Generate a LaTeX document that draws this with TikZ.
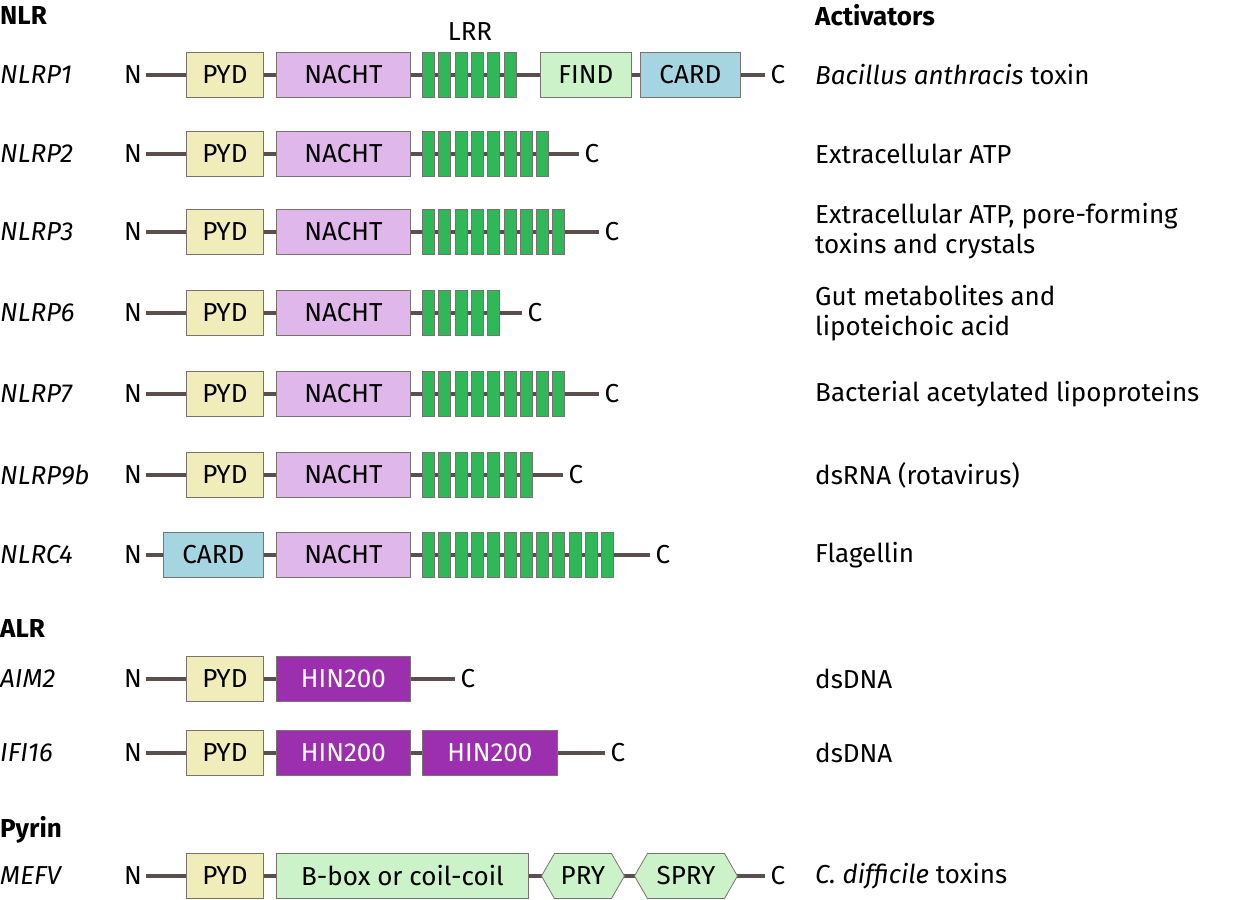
\documentclass[tikz,border=0pt]{standalone}
\usepackage{fontspec}
\setmainfont{Fira Sans}
\usepackage{tikz}
\usetikzlibrary{positioning,shapes.geometric,shapes.symbols}
\definecolor{pydcol}{HTML}{F0EDBB}
\definecolor{nachtcol}{HTML}{DFB7EA}
\definecolor{lrrcol}{HTML}{2EB857}
\definecolor{findcol}{HTML}{CBF2C8}
\definecolor{cardcol}{HTML}{A6D5E2}
\definecolor{hincol}{HTML}{9B2FAE}
\definecolor{linecol}{HTML}{5A4F4C}
\tikzset{
  dom/.style={draw=linecol!80, line width=0.8pt, minimum height=45pt, inner sep=0pt, anchor=west, font=\fontsize{26}{30}\selectfont},
  pyd/.style={dom, fill=pydcol, minimum width=77pt},
  nacht/.style={dom, fill=nachtcol, minimum width=134pt},
  card/.style={dom, fill=cardcol, minimum width=100pt},
  find/.style={dom, fill=findcol, minimum width=91pt},
  hin/.style={dom, fill=hincol, text=white, minimum width=134pt},
  hexa/.style={dom, fill=findcol, shape=signal, signal to=east and west, signal pointer angle=120},
  lrr/.style={draw=linecol!80, line width=0.6pt, fill=lrrcol, minimum width=12pt, minimum height=45pt, inner sep=0pt, anchor=west},
  term/.style={font=\fontsize{26}{30}\selectfont, inner sep=0pt},
  lbl/.style={font=\fontsize{26}{30}\selectfont\itshape, anchor=west, inner sep=0pt},
  act/.style={font=\fontsize{26}{30}\selectfont, anchor=west, inner sep=0pt, align=left},
  head/.style={font=\fontsize{26}{30}\selectfont\bfseries, anchor=west, inner sep=0pt},
  chain/.style={linecol, line width=4pt}
}
% LRR repeats: #1 y position, #2 count
\newcommand{\lrrs}[2]{\foreach \k in {1,...,#2} \node[lrr] at ({422+16.3*(\k-1)},#1) {};}
\begin{document}
\begin{tikzpicture}[x=1pt,y=-1pt]
  \useasboundingbox (0,0) rectangle (1241,899);
  % headings
  \node[head] (hnlr) at (0,15) {NLR};
  \node[head] (hact) at (815,15) {Activators};
  \node[head] (halr) at (0,628) {ALR};
  \node[head] (hpyr) at (0,830) {Pyrin};
  \node[term] (lrrlab) at (470,32) {LRR};

  % NLRP1
  \node[lbl] (l1) at (0,75) {NLRP1};
  \node[term] (n1) at (133,75) {N};
  \node[term] (c1) at (778,75) {C};
  \draw[chain] (n1.east) ++(4,0) -- ([xshift=-6pt]c1.west);
  \node[pyd] (p1) at (186,75) {PYD};
  \node[nacht] (na1) at (276,75) {NACHT};
  \lrrs{75}{6}
  \node[find] (f1) at (540,75) {FIND};
  \node[card] (cd1) at (640,75) {CARD};
  \node[act] (a1) at (815,75) {\textit{Bacillus anthracis} toxin};

  % NLRP2
  \node[lbl] (l2) at (0,154) {NLRP2};
  \node[term] (n2) at (133,154) {N};
  \node[term] (c2) at (592,154) {C};
  \draw[chain] (n2.east) ++(4,0) -- ([xshift=-6pt]c2.west);
  \node[pyd] (p2) at (186,154) {PYD};
  \node[nacht] (na2) at (276,154) {NACHT};
  \lrrs{154}{8}
  \node[act] (a2) at (815,154) {Extracellular ATP};

  % NLRP3
  \node[lbl] (l3) at (0,232) {NLRP3};
  \node[term] (n3) at (133,232) {N};
  \node[term] (c3) at (612,232) {C};
  \draw[chain] (n3.east) ++(4,0) -- ([xshift=-6pt]c3.west);
  \node[pyd] (p3) at (186,232) {PYD};
  \node[nacht] (na3) at (276,232) {NACHT};
  \lrrs{232}{9}
  \node[act, anchor=north west] (a3) at (815,203) {Extracellular ATP, pore-forming\\toxins and crystals};

  % NLRP6
  \node[lbl] (l6) at (0,313) {NLRP6};
  \node[term] (n6) at (133,313) {N};
  \node[term] (c6) at (535,313) {C};
  \draw[chain] (n6.east) ++(4,0) -- ([xshift=-6pt]c6.west);
  \node[pyd] (p6) at (186,313) {PYD};
  \node[nacht] (na6) at (276,313) {NACHT};
  \lrrs{313}{5}
  \node[act, anchor=north west] (a6) at (815,285) {Gut metabolites and\\lipoteichoic acid};

  % NLRP7
  \node[lbl] (l7) at (0,394) {NLRP7};
  \node[term] (n7) at (133,394) {N};
  \node[term] (c7) at (612,394) {C};
  \draw[chain] (n7.east) ++(4,0) -- ([xshift=-6pt]c7.west);
  \node[pyd] (p7) at (186,394) {PYD};
  \node[nacht] (na7) at (276,394) {NACHT};
  \lrrs{394}{9}
  \node[act] (a7) at (815,394) {Bacterial acetylated lipoproteins};

  % NLRP9b
  \node[lbl] (l9) at (0,475) {NLRP9b};
  \node[term] (n9) at (133,475) {N};
  \node[term] (c9) at (576,475) {C};
  \draw[chain] (n9.east) ++(4,0) -- ([xshift=-6pt]c9.west);
  \node[pyd] (p9) at (186,475) {PYD};
  \node[nacht] (na9) at (276,475) {NACHT};
  \lrrs{475}{7}
  \node[act] (a9) at (815,475) {dsRNA (rotavirus)};

  % NLRC4
  \node[lbl] (lc) at (0,555) {NLRC4};
  \node[term] (nc) at (133,555) {N};
  \node[term] (cc) at (663,555) {C};
  \draw[chain] (nc.east) ++(4,0) -- ([xshift=-6pt]cc.west);
  \node[card] (cdc) at (163,555) {CARD};
  \node[nacht] (nac) at (276,555) {NACHT};
  \lrrs{555}{12}
  \node[act] (ac) at (815,555) {Flagellin};

  % AIM2
  \node[lbl] (la) at (0,679) {AIM2};
  \node[term] (na) at (133,679) {N};
  \node[term] (ca) at (468,679) {C};
  \draw[chain] (na.east) ++(4,0) -- ([xshift=-6pt]ca.west);
  \node[pyd] (pa) at (186,679) {PYD};
  \node[hin] (ha) at (276,679) {HIN200};
  \node[act] (aa) at (815,679) {dsDNA};

  % IFI16
  \node[lbl] (li) at (0,753) {IFI16};
  \node[term] (ni) at (133,753) {N};
  \node[term] (ci) at (618,753) {C};
  \draw[chain] (ni.east) ++(4,0) -- ([xshift=-6pt]ci.west);
  \node[pyd] (pi) at (186,753) {PYD};
  \node[hin] (hi1) at (276,753) {HIN200};
  \node[hin, minimum width=135pt] (hi2) at (422,753) {HIN200};
  \node[act] (ai) at (815,753) {dsDNA};

  % MEFV
  \node[lbl] (lm) at (0,876) {MEFV};
  \node[term] (nm) at (133,876) {N};
  \node[term] (cm) at (778,876) {C};
  \draw[chain] (nm.east) ++(4,0) -- ([xshift=-6pt]cm.west);
  \node[pyd] (pm) at (186,876) {PYD};
  \node[dom, fill=findcol, minimum width=252pt] (bm) at (276,876) {B-box or coil-coil};
  \node[hexa, minimum width=83pt] (prm) at (541,876) {PRY};
  \node[hexa, minimum width=103pt] (sprm) at (634,876) {SPRY};
  \node[act] (am) at (815,876) {\textit{C. difficile} toxins};
\end{tikzpicture}
\end{document}
